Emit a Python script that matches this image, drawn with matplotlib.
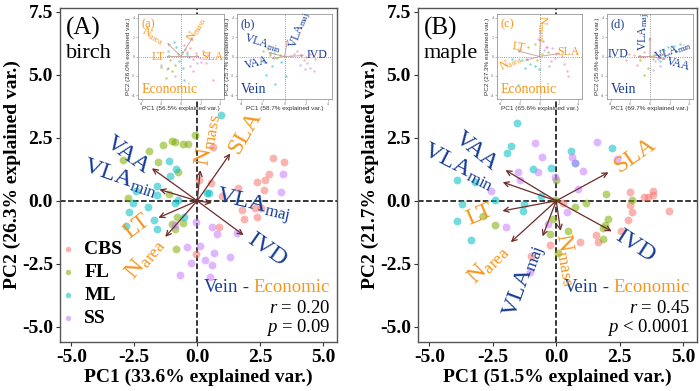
import matplotlib
matplotlib.use("Agg")
import matplotlib.pyplot as plt
import numpy as np

plt.rcParams['font.family'] = ['Liberation Serif', 'DejaVu Serif']
plt.rcParams['mathtext.fontset'] = 'custom'
plt.rcParams['mathtext.rm'] = 'Liberation Serif'
plt.rcParams['mathtext.it'] = 'Liberation Serif:italic'
plt.rcParams['axes.unicode_minus'] = False

##### data #####
groups = ['CBS', 'FL', 'ML', 'SS']
group_colors = ['#F8766D', '#7CAE00', '#00BFC4', '#C77CFF']

# birch main PCA scores
birch_cbs = [(0.61, 2.14), (3.0, 1.71), (3.43, 1.55), (2.86, 1.06), (2.7, 0.82), (2.37, 0.75),
             (2.66, 0.42), (1.6, 0.52), (0.56, 0.69), (0.05, 0.82), (1.0, 0.2), (1.77, -0.37),
             (2.3, -0.28), (2.55, -0.3), (1.84, -0.72), (2.37, -0.65), (0.85, -1.03), (-0.05, -2.1)]
birch_fl = [(-0.1, 2.62), (-1.36, 2.22), (-1.0, 2.36), (-0.87, 2.34), (-0.57, 2.24), (-0.37, 2.24),
            (-1.93, 1.97), (-2.96, 1.61), (-1.56, 1.54), (-0.78, 1.15), (-1.14, 0.27), (-2.75, 0.1),
            (-0.8, -0.63), (-1.0, -0.92), (-0.57, -0.87), (-0.9, -1.12), (-0.84, -1.93)]
birch_ml = [(0.94, 3.4), (-1.11, 1.57), (-0.83, 1.25), (-1.1, 1.0), (-1.6, 0.58), (-2.42, 0.4),
            (-1.6, 0.23), (-2.55, -0.1), (-2.72, -0.45), (-2.82, -0.98), (-1.6, -1.1), (-1.73, -0.78),
            (-1.95, -0.25), (-0.87, -0.1), (-0.77, 0.05), (0.38, 0.33), (0.45, 0.33), (-0.52, -0.66)]
birch_ss = [(3.31, 0.34), (3.4, 1.06), (-0.06, -0.83), (0.58, -1.03), (0.78, -1.3), (0.09, -1.8),
            (0.65, -2.06), (0.32, -2.35), (0.58, -2.55), (0.52, -3.04), (1.31, -2.22), (1.57, -1.29),
            (-0.41, -1.83), (-0.67, -2.95), (-0.25, -2.46), (-0.87, -0.96)]

# maple main PCA scores
maple_cbs = [(2.91, 0.34), (3.8, 0.4), (3.8, 0.22), (3.62, 0.16), (3.48, 0.14), (4.43, -0.4),
             (2.98, -0.45), (2.82, -0.75), (2.89, -0.16), (0.28, -0.09), (2.56, -1.19), (1.55, -1.34),
             (1.63, -1.64), (0.94, -1.64), (-0.25, -1.74), (-1.0, -2.2)]
maple_fl = [(0.0, 0.83), (-0.05, 0.05), (1.95, 0.29), (3.0, 0.02), (1.16, -0.07), (0.74, -0.26),
            (2.06, -0.71), (1.92, -0.95), (1.83, -1.08), (1.83, -1.5), (0.47, -1.19), (-0.25, -1.3),
            (-0.12, -0.71), (0.05, -2.07), (-2.4, -0.95), (-2.9, -0.6)]
maple_ml = [(-1.54, 3.08), (-1.8, 2.16), (-1.93, 1.88), (-0.92, 1.26), (-0.22, 1.3), (-3.93, 0.83),
            (-3.19, 0.76), (-2.41, 0.02), (-0.59, 0.2), (2.19, 2.11), (0.57, 1.98), (-3.72, -0.12),
            (-3.9, -0.79), (-3.37, -1.56), (-1.28, -0.12), (-1.3, -0.4), (0.74, 1.5)]
maple_ss = [(-0.83, 2.31), (-0.56, 1.72), (-0.73, 1.13), (-1.49, 1.13), (-1.42, 0.83), (-2.58, 0.4),
            (1.59, 2.32), (0.63, 1.72), (0.74, 1.5), (1.07, 1.18), (2.4, 1.66), (-0.05, 0.96),
            (0.87, 0.47), (-0.34, -0.91), (0.41, -0.45), (-1.04, -2.82), (-1.99, -1.02)]

# loadings (arrow tips), label positions, label rotation, kind
traits = ['SLA', 'N$_{\\rm mass}$', 'VAA', 'VLA$_{\\rm min}$', 'VLA$_{\\rm maj}$', 'IVD', 'LT', 'N$_{\\rm area}$']
trait_kind = ['eco', 'eco', 'vein', 'vein', 'vein', 'vein', 'eco', 'eco']
birch_load = [(1.31, 1.88), (0.12, 1.22), (-1.8, 1.29), (-1.5, 0.45), (0.58, -0.08), (1.84, -1.36), (-1.54, -0.67), (-1.27, -1.43)]
birch_lab = [(1.9, 2.7), (0.4, 2.4), (-2.75, 1.8), (-3.05, 0.9), (2.2, -0.2), (2.75, -1.95), (-2.4, -1.0), (-2.1, -2.3)]
birch_rot = [60, 80, -36, -19, -13, -35, 37, 50]
maple_load = [(2.06, 1.13), (0.17, -1.19), (-2.0, 1.22), (-2.11, 0.74), (-0.54, -1.41), (2.19, -1.21), (-2.12, -0.4), (-1.79, -1.64)]
maple_lab = [(3.1, 1.8), (0.4, -2.3), (-3.15, 1.95), (-3.85, 1.35), (-1.25, -3.2), (3.1, -1.8), (-3.0, -0.55), (-2.7, -2.5)]
maple_rot = [35, -80, -39, -27, 70, -33, 23, 45]

# inset PCA scores (separate economic / vein PCAs)
ins_a = [[(0.3, 1.2), (0.9, 0.9), (1.5, 0.4), (2.2, 0.6), (2.6, -0.7), (3.3, -2.4), (1.2, -0.3), (1.9, -0.2), (0.6, 0.5), (2.8, 0.2)],
         [(-1.3, -1.2), (-1.5, -2.2), (-0.9, -1.5), (-0.6, -0.9), (-2.0, -1.1), (-1.1, -0.4), (0.4, 0.8), (-0.3, 0.3)],
         [(-0.7, 1.5), (-0.5, 1.0), (0.6, 0.3), (0.8, -0.1), (0.2, -1.2), (0.3, -2.4), (-1.3, 0.6), (-0.2, -0.5), (0.1, 0.5)],
         [(-2.0, -0.9), (-1.4, -1.3), (1.6, -0.7), (2.0, -0.6), (1.2, -1.5), (-0.6, -2.0), (0.9, -1.0)]]
ins_b = [[(1.5, 0.2), (2.0, -0.1), (2.4, 0.3), (1.2, 0.6), (0.6, 0.1), (1.8, -0.4), (2.8, -0.3)],
         [(-1.5, 0.8), (-2.0, 0.6), (-1.0, 0.4), (-0.4, 0.2), (-1.3, 0.2), (-0.7, -0.2)],
         [(-1.2, -1.0), (0.1, -2.0), (-0.9, -2.8), (-1.7, -1.9), (-2.0, -0.5), (-0.3, -0.6)],
         [(2.1, -0.7), (2.4, -1.2), (2.7, -1.5), (1.4, -0.9), (1.9, -1.3), (0.9, 0.3)]]
ins_c = [[(2.5, -0.8), (2.8, -1.5), (3.0, -2.0), (1.9, 0.4), (2.3, 0.1), (1.2, -0.5), (0.7, 1.0)],
         [(-0.5, 1.3), (0.4, 1.6), (-1.2, 1.0), (0.3, 0.3), (-0.3, -0.4), (0.9, 0.5)],
         [(-1.0, -0.8), (-1.8, -0.4), (-0.5, -1.0), (-2.2, -3.0), (-0.1, -1.3), (-2.8, -0.3), (-1.5, -1.2)],
         [(0.8, 1.0), (1.3, 0.9), (0.5, 0.7), (1.6, -0.2), (1.0, -1.0), (-0.2, 1.8)]]
ins_d = [[(-2.2, 0.3), (-1.6, 0.2), (-1.0, -0.1), (-2.5, -0.4), (-1.3, -0.9), (-0.6, 0.5)],
         [(-0.7, 0.0), (0.3, -0.3), (-0.2, -1.2), (-1.0, -0.4), (-0.6, -1.9), (0.4, 0.2)],
         [(1.8, 1.0), (2.5, 1.1), (3.1, 1.3), (1.4, 0.7), (1.0, -0.5), (2.7, 0.6)],
         [(0.5, -0.5), (1.0, -1.0), (0.8, -0.3), (0.3, -1.4), (1.5, -0.1), (0.6, 0.3)]]

ins_traits_a = ['N$_{\\rm area}$', 'LT', 'N$_{\\rm mass}$', 'SLA']
ins_load_a = [(-1.4, 1.4), (-1.5, 0.0), (1.2, 2.0), (1.9, 0.0)]
ins_lab_a = [(-2.9, 2.1), (-2.3, 0.0), (1.6, 2.9), (3.2, 0.0)]
ins_rot_a = [-30, 0, 60, 0]
ins_traits_b = ['VLA$_{\\rm min}$', 'VAA', 'VLA$_{\\rm maj}$', 'IVD']
ins_load_b = [(-1.5, 0.4), (-1.2, -0.2), (0.3, 1.8), (1.8, 0.1)]
ins_lab_b = [(-2.0, 1.3), (-2.6, -0.7), (1.4, 2.7), (3.0, 0.2)]
ins_rot_b = [-18, 15, 70, 0]
ins_traits_c = ['N$_{\\rm mass}$', 'LT', 'N$_{\\rm area}$', 'SLA']
ins_load_c = [(0.1, 1.9), (-2.3, 0.6), (-1.5, -0.4), (2.0, 0.3)]
ins_lab_c = [(0.2, 2.9), (-2.2, 1.0), (-2.9, -0.6), (3.0, 0.5)]
ins_rot_c = [-90, -10, 25, 0]
ins_traits_d = ['IVD', 'VLA$_{\\rm maj}$', 'VLA$_{\\rm min}$', 'VAA']
ins_load_d = [(-1.3, 0.0), (0.0, 2.0), (1.5, 0.2), (1.6, -0.3)]
ins_lab_d = [(-3.3, 0.3), (-0.6, 2.5), (2.3, 0.6), (2.9, -0.8)]
ins_rot_d = [0, 90, 20, -15]

ORANGE = '#F7961C'
BLUE = '#173C96'
ARROW = '#6E2A2A'
kind_color = {'eco': ORANGE, 'vein': BLUE}


def scatter_groups(ax, sets, size, label=False):
    for g, col, pts in zip(groups, group_colors, sets):
        arr = np.array(pts)
        ax.scatter(arr[:, 0], arr[:, 1], s=size, color=col, alpha=0.55, linewidths=0,
                   label=g if label else None, zorder=2)


def main_panel(ax, sets, load, lab, rot, letter, tree, xlab, ylab, r_txt, p_txt, legend):
    ax.set_xlim(-5.45, 5.55)
    ax.set_ylim(-5.6, 7.65)
    ax.axhline(0, color='black', ls='--', lw=1.1, zorder=1)
    ax.axvline(0, color='black', ls='--', lw=1.1, zorder=1)
    scatter_groups(ax, sets, 32, label=legend)
    for name, kind, tip, pos, r in zip(traits, trait_kind, load, lab, rot):
        ax.annotate('', xy=tip, xytext=(0, 0),
                    arrowprops=dict(arrowstyle='->', color=ARROW, lw=0.9, shrinkA=0, shrinkB=0, mutation_scale=9),
                    zorder=3)
        ax.text(pos[0], pos[1], name, color=kind_color[kind], fontsize=17.5, rotation=r,
                ha='center', va='center', rotation_mode='anchor', zorder=4)
    ax.set_xticks([-5, -2.5, 0, 2.5, 5])
    ax.set_yticks([-5, -2.5, 0, 2.5, 5, 7.5])
    ax.set_xticklabels(['%.1f' % v for v in [-5, -2.5, 0, 2.5, 5]], fontweight='bold', fontsize=14)
    ax.set_yticklabels(['%.1f' % v for v in [-5, -2.5, 0, 2.5, 5, 7.5]], fontweight='bold', fontsize=14)
    ax.tick_params(length=3, width=0.8, color='#333333', pad=2)
    for s in ax.spines.values():
        s.set_color('#555555')
        s.set_linewidth(1.0)
    ax.set_xlabel(xlab, fontweight='bold', fontsize=14, labelpad=2)
    ax.set_ylabel(ylab, fontweight='bold', fontsize=14, labelpad=1)
    ax.text(0.02, 0.94, letter, transform=ax.transAxes, fontsize=18, ha='left', va='center')
    ax.text(0.02, 0.865, tree, transform=ax.transAxes, fontsize=16, ha='left', va='center')
    # Vein - Economic
    t1 = ax.text(0.975, 0.138, 'Economic', transform=ax.transAxes, color=ORANGE, fontsize=13.5,
                 ha='right', va='bottom')
    t2 = ax.annotate(' - ', xy=(0, 0), xycoords=t1, color='#333333', fontsize=13.5, ha='right', va='bottom')
    ax.annotate('Vein', xy=(0, 0), xycoords=t2, color=BLUE, fontsize=13.5, ha='right', va='bottom')
    ax.text(0.975, 0.1, r_txt, transform=ax.transAxes, fontsize=13.5, ha='right', va='center')
    ax.text(0.975, 0.043, p_txt, transform=ax.transAxes, fontsize=13.5, ha='right', va='center')
    if legend:
        ax.legend(loc='upper left', bbox_to_anchor=(0.0, 0.305), frameon=False,
                  prop={'weight': 'bold', 'size': 14, 'family': 'Liberation Serif'},
                  handlelength=0.8, handletextpad=0.45, labelspacing=0.28, markerscale=0.7,
                  borderaxespad=0, borderpad=0)


def inset(rect, sets, names, load, lab, rot, color, letter, word, xlab, ylab):
    ax = fig.add_axes(rect)
    ax.set_facecolor('white')
    ax.set_xlim(-4.4, 4.4)
    ax.set_ylim(-4.4, 4.4)
    ax.axhline(0, color='#777777', ls=':', lw=0.6, zorder=1)
    ax.axvline(0, color='#777777', ls=':', lw=0.6, zorder=1)
    scatter_groups(ax, sets, 3)
    for name, tip, pos, r in zip(names, load, lab, rot):
        ax.annotate('', xy=tip, xytext=(0, 0),
                    arrowprops=dict(arrowstyle='->', color='#C49A9A', lw=0.6, shrinkA=0, shrinkB=0, mutation_scale=4))
        ax.text(pos[0], pos[1], name, color=color, fontsize=8.5, rotation=r, ha='center', va='center',
                rotation_mode='anchor', zorder=4)
    ax.text(0.04, 0.95, letter, transform=ax.transAxes, color=color, fontsize=9, ha='left', va='top')
    ax.text(0.04, 0.03, word, transform=ax.transAxes, color=color, fontsize=10, ha='left', va='bottom')
    ax.set_xticks([-4, -2, 0, 2, 4])
    ax.set_yticks([-4, -2, 0, 2, 4])
    ax.tick_params(labelsize=2.8, length=1.5, width=0.4, color='#888888', labelcolor='#666666', pad=0.5)
    for s in ax.spines.values():
        s.set_color('#999999')
        s.set_linewidth(0.6)
    ax.set_xlabel(xlab, fontsize=4.6, family='Liberation Sans', color='#333333', labelpad=0.5)
    ax.set_ylabel(ylab, fontsize=4.6, family='Liberation Sans', color='#333333', labelpad=0.5)
    return ax


fig = plt.figure(figsize=(7, 3.91), dpi=100)
axA = fig.add_axes([60 / 700, 49 / 391, 277 / 700, 334 / 391])
axB = fig.add_axes([418 / 700, 49 / 391, 279 / 700, 334 / 391])

main_panel(axA, [birch_cbs, birch_fl, birch_ml, birch_ss], birch_load, birch_lab, birch_rot,
           '(A)', 'birch', 'PC1 (33.6% explained var.)', 'PC2 (26.3% explained var.)',
           '$r$ = 0.20', '$p$ = 0.09', True)
main_panel(axB, [maple_cbs, maple_fl, maple_ml, maple_ss], maple_load, maple_lab, maple_rot,
           '(B)', 'maple', 'PC1 (51.5% explained var.)', 'PC2 (21.7% explained var.)',
           '$r$ = 0.45', '$p$ < 0.0001', False)

inset([138 / 700, 292 / 391, 86 / 700, 85 / 391], ins_a, ins_traits_a, ins_load_a, ins_lab_a, ins_rot_a,
      ORANGE, '(a)', 'Economic', 'PC1 (56.5% explained var.)', 'PC2 (26.0% explained var.)')
inset([237 / 700, 292 / 391, 95 / 700, 85 / 391], ins_b, ins_traits_b, ins_load_b, ins_lab_b, ins_rot_b,
      BLUE, '(b)', 'Vein', 'PC1 (58.7% explained var.)', 'PC2 (25.7% explained var.)')
inset([497 / 700, 292 / 391, 85 / 700, 85 / 391], ins_c, ins_traits_c, ins_load_c, ins_lab_c, ins_rot_c,
      ORANGE, '(c)', 'Economic', 'PC1 (65.6% explained var.)', 'PC2 (27.3% explained var.)')
inset([607 / 700, 292 / 391, 86 / 700, 85 / 391], ins_d, ins_traits_d, ins_load_d, ins_lab_d, ins_rot_d,
      BLUE, '(d)', 'Vein', 'PC1 (69.7% explained var.)', 'PC2 (35.6% explained var.)')

fig.savefig('out.png', dpi=100)
